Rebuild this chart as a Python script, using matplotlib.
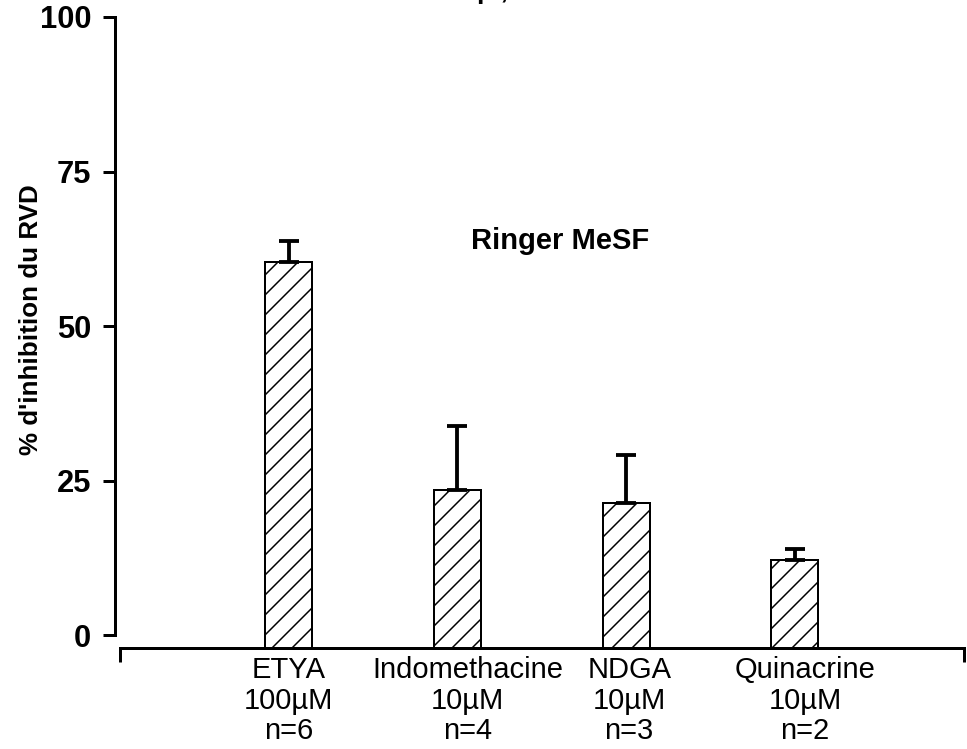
import matplotlib
matplotlib.use("Agg")
import matplotlib.pyplot as plt
import matplotlib.transforms as mtransforms
import numpy as np

# ---- data ----
categories = ["ETYA\n100µM\nn=6", "Indomethacine\n10µM\nn=4",
              "NDGA\n10µM\nn=3", "Quinacrine\n10µM\nn=2"]
values = [60.3, 23.4, 21.4, 12.1]
sem = [3.4, 10.5, 7.7, 1.8]
yticks = [0, 25, 50, 75, 100]

plt.rcParams['font.family'] = ['Liberation Sans', 'DejaVu Sans']
plt.rcParams['hatch.linewidth'] = 0.9

DPI = 120
W, H = 967, 749
fig = plt.figure(figsize=(W / DPI, H / DPI), dpi=DPI)

# layout in pixels
ax_left, ax_right = 115, 967
ax_bottom_px, ax_top_px = 648, 17
ymin = -2.1
xlim = (-1.03, 4.02)
ax = fig.add_axes([ax_left / W, 1 - ax_bottom_px / H,
                   (ax_right - ax_left) / W, (ax_bottom_px - ax_top_px) / H])
ax.set_xlim(*xlim)
ax.set_ylim(ymin, 100)

pos = np.arange(len(values))
vals = np.array(values)
ax.bar(pos, vals - ymin, bottom=ymin, width=0.279, color='white',
       edgecolor='black', hatch='//', linewidth=1.2, zorder=2)
ax.errorbar(pos, vals, yerr=[np.zeros_like(vals), np.array(sem)], fmt='none',
            ecolor='black', elinewidth=2.3, capsize=6, capthick=2.3, zorder=3)

# spines
for s in ['top', 'right']:
    ax.spines[s].set_visible(False)
ax.spines['left'].set_bounds(0, 100)
ax.spines['left'].set_linewidth(1.8)
ax.spines['bottom'].set_bounds(-1.0, 4.0)
ax.spines['bottom'].set_linewidth(1.8)

# y ticks
ax.set_yticks(yticks)
ax.set_yticklabels([str(t) for t in yticks], fontsize=18.5, fontweight='bold')
ax.tick_params(axis='y', direction='out', length=7.2, width=1.8, pad=7)

# x ticks: ends of axis line (major), category labels (minor)
ax.set_xticks([-1.0, 4.0])
ax.set_xticklabels(['', ''])
ax.tick_params(axis='x', which='major', direction='out', length=8.4, width=1.8)
ax.set_xticks(pos, minor=True)
labels = ax.set_xticklabels(categories, minor=True, fontsize=17.5,
                            linespacing=1.1)
ax.tick_params(axis='x', which='minor', length=0, pad=5)
# slight horizontal nudges of some labels, as in the reference
nudges_px = [0, 10, 3, 10]
for lab, dx in zip(labels, nudges_px):
    lab.set_transform(lab.get_transform() +
                      mtransforms.ScaledTranslation(dx / DPI, 0, fig.dpi_scale_trans))

ax.text(1.61, 63.8, "Ringer MeSF", fontsize=17.5, fontweight='bold',
        ha='center', va='center')

fig.text(31 / W, 1 - 320 / H, "% d'inhibition du RVD", rotation=90,
         fontsize=15.6, fontweight='bold', ha='center', va='center')

# clipped title fragment at the very top (only descenders visible)
fig.text(477 / W, 1 + 1.5 / H, "p ,", fontsize=16, fontweight='bold',
         ha='left', va='baseline')

fig.savefig("out.png", dpi=DPI)
